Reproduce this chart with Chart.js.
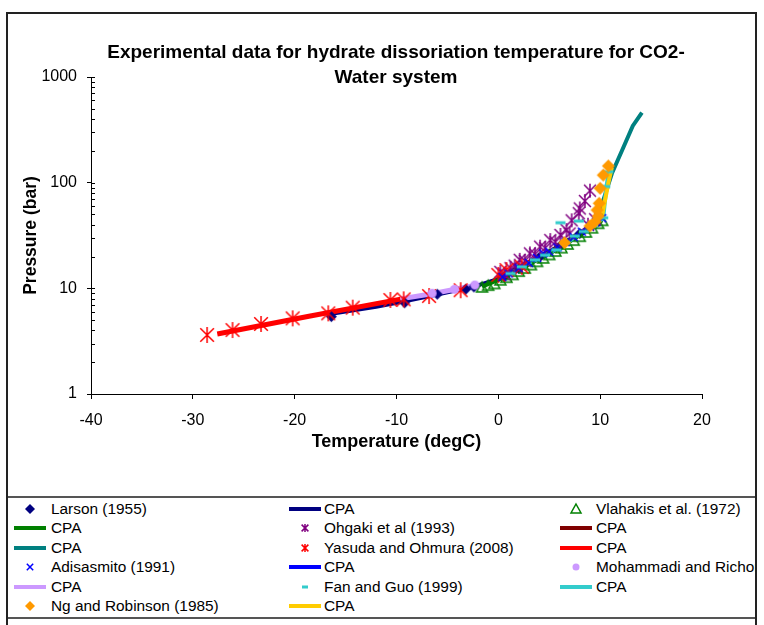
<!DOCTYPE html>
<html>
<head>
<meta charset="utf-8">
<script src="https://cdn.jsdelivr.net/npm/chart.js@4.4.0/dist/chart.umd.min.js"></script>
<style>
  body { margin: 0; background: #fff; font-family: Arial, "Liberation Sans", sans-serif; }
  #wrap { position: relative; width: 764px; height: 625px; overflow: hidden; }
  #chart { position: absolute; left: 0; top: 0; }
  #frame { position: absolute; left: 6px; top: 12px; width: 747px; height: 640px; border: 2px solid #222; pointer-events: none; }
  #title { position: absolute; left: 46px; width: 700px; top: 39px; text-align: center; font-weight: bold; font-size: 19px; line-height: 25px; color: #000; }
  #legend { position: absolute; left: 8px; top: 496px; width: 747px; height: 119px; border-top: 2px solid #555; border-bottom: 2px solid #555; overflow: hidden; }
  .leg-sym { position: absolute; }
  .leg-text { position: absolute; font-size: 15.4px; line-height: 18px; white-space: nowrap; color: #000; }
</style>
</head>
<body>
<div id="wrap">
  <canvas id="chart" width="764" height="496"></canvas>
  <div id="title">Experimental data for hydrate dissoriation temperature for CO2-<br>Water system</div>
  <div id="legend"></div>
  <div id="frame"></div>
</div>
<script>
// Axis ticks
const xTicks = [-40, -30, -20, -10, 0, 10, 20];
const yTicks = [1, 10, 100, 1000];

// [temperature degC, pressure bar]
const larson = [[-16.4, 5.4], [-9.2, 7.3], [-6.0, 8.8], [-3.2, 9.8], [-2.4, 10.3], [0.6, 13.0], [2.0, 15.4], [4.0, 19.6], [6.0, 24.8], [8.0, 33.0], [9.6, 41.0]];
const larsonCpa = [[-16.4, 5.75], [-12.0, 6.7], [-9.2, 7.55], [-6.0, 8.75], [-2.4, 10.4], [0.0, 12.3], [2.0, 15.3], [4.0, 19.4], [6.0, 24.4], [8.0, 33.0], [10.0, 44.5]];

const vlahakis = [[-1.6, 10.2], [-1.0, 10.6], [-0.4, 11.0], [0.2, 11.9], [0.8, 12.6], [1.4, 13.4], [2.0, 14.4], [2.6, 15.4], [3.2, 16.6], [3.8, 17.8], [4.4, 19.2], [5.0, 20.7], [5.6, 22.3], [6.2, 24.0], [6.8, 26.0], [7.4, 28.3], [8.0, 30.8], [8.6, 33.8], [9.2, 37.0], [9.8, 40.8], [10.2, 43.5]];
const vlahakisCpa = [[-1.6, 10.4], [0.0, 12.0], [2.0, 15.0], [4.0, 19.0], [6.0, 24.0], [8.0, 32.0], [10.2, 44.0]];

const ohgaki = [[0.2, 14.3], [0.6, 13.6], [1.2, 15.5], [1.6, 16.4], [2.1, 18.6], [2.6, 18.2], [3.1, 21.4], [3.6, 21.0], [4.1, 24.8], [4.6, 24.0], [5.1, 28.6], [5.6, 27.4], [6.1, 32.0], [6.7, 35.6], [7.0, 33.0], [7.2, 44.0], [7.9, 51.4], [8.0, 57.0], [8.5, 67.0], [9.0, 84.0], [8.8, 40.0], [9.5, 45.0]];
const ohgakiCpa = [[0.0, 12.6], [2.0, 15.8], [4.0, 19.9], [6.0, 25.2], [8.0, 33.5], [10.0, 45.0]];

const liquidCpa = [[10.0, 44.5], [10.3, 68.0], [11.15, 122.0], [12.2, 207.0], [13.2, 344.0], [14.1, 459.0]];

const yasuda = [[-28.6, 3.62], [-26.1, 4.03], [-23.3, 4.6], [-20.2, 5.2], [-16.7, 5.8], [-14.3, 6.56], [-10.6, 7.76], [-9.3, 7.87], [-6.8, 8.46], [-3.7, 9.6], [0.0, 13.4], [0.8, 14.9], [2.3, 16.0]];
const yasudaCpa = [[-27.6, 3.7], [-18.6, 5.45], [-9.6, 7.9]];

const adisasmito = [[0.4, 12.8], [1.0, 13.8], [2.0, 15.5], [3.0, 17.4], [3.8, 19.4], [4.4, 21.4], [5.0, 22.2], [5.8, 24.4], [6.6, 27.4], [7.4, 30.5], [8.2, 34.4], [9.0, 38.6], [9.6, 42.4], [10.2, 46.0]];
const adisasmitoCpa = [[0.0, 12.3], [2.0, 15.3], [4.0, 19.4], [6.0, 24.4], [8.0, 33.0], [10.2, 46.0]];

const mohammadi = [[-6.5, 8.98], [-4.3, 9.79], [-2.3, 10.75]];
const mohammadiCpa = [[-9.6, 7.95], [-6.5, 8.9], [-2.1, 10.75]];

const fanGuo = [[1.2, 13.8], [2.3, 16.0], [3.6, 18.6], [4.6, 20.6], [5.7, 23.1], [6.1, 41.8], [6.6, 27.0], [7.5, 31.2], [7.9, 43.3], [8.4, 34.5], [9.3, 39.0], [10.3, 46.5], [10.5, 92.0], [10.8, 127.0]];
const fanGuoCpa = [[1.0, 13.6], [3.0, 17.3], [5.0, 21.6], [7.0, 28.0], [9.0, 38.5], [10.3, 46.0], [10.6, 90.0], [10.9, 135.0]];

const ngRobinson = [[6.5, 27.0], [9.0, 38.9], [9.5, 42.7], [9.8, 48.3], [9.7, 55.1], [9.9, 63.8], [10.0, 88.5], [10.3, 118.0], [10.8, 143.8]];
const ngRobinsonCpa = [[9.5, 41.5], [10.17, 47.6], [10.83, 102.0], [11.15, 140.0]];

// Series in legend order (row by row)
const series = [
    { label: 'Larson (1955)', data: larson, marker: 'diamond', size: 11, legSize: 10, color: '#000080' },
    { label: 'CPA', data: larsonCpa, line: 4, color: '#000080' },
    { label: 'Vlahakis et al. (1972)', data: vlahakis, marker: 'triangle', size: 11, legSize: 10, color: '#008000' },
    { label: 'CPA', data: vlahakisCpa, line: 4, color: '#008000' },
    { label: 'Ohgaki et al (1993)', data: ohgaki, marker: 'asterisk', size: 14, legSize: 8, color: '#800080' },
    { label: 'CPA', data: ohgakiCpa, line: 4, color: '#800000' },
    { label: 'CPA', data: liquidCpa, line: 4, color: '#008080' },
    { label: 'Yasuda and Ohmura (2008)', data: yasuda, marker: 'asterisk', size: 16, legSize: 8, color: '#ff0000' },
    { label: 'CPA', data: yasudaCpa, line: 5, color: '#ff0000' },
    { label: 'Adisasmito (1991)', data: adisasmito, marker: 'cross', size: 10, legSize: 8, color: '#0000ff' },
    { label: 'CPA', data: adisasmitoCpa, line: 4, color: '#0000ff' },
    { label: 'Mohammadi and Richon (2008)', data: mohammadi, marker: 'circle', size: 9, legSize: 7, color: '#cc99ff' },
    { label: 'CPA', data: mohammadiCpa, line: 5, color: '#cc99ff' },
    { label: 'Fan and Guo (1999)', data: fanGuo, marker: 'dash', size: 10, legSize: 6, color: '#33cccc' },
    { label: 'CPA', data: fanGuoCpa, line: 4, color: '#33cccc' },
    { label: 'Ng and Robinson (1985)', data: ngRobinson, marker: 'diamond', size: 13, legSize: 10, color: '#ff9900' },
    { label: 'CPA', data: ngRobinsonCpa, line: 4, color: '#ffcc00' }
];

// Marker glyphs
function paintMarker(ctx, kind, x, y, size, color) {
    const r = size / 2;
    ctx.fillStyle = color;
    ctx.strokeStyle = color;
    ctx.lineWidth = 1.5;
    ctx.beginPath();
    switch (kind) {
        case 'diamond':
            ctx.moveTo(x, y - r); ctx.lineTo(x + r, y); ctx.lineTo(x, y + r); ctx.lineTo(x - r, y);
            ctx.closePath(); ctx.fill();
            break;
        case 'triangle':
            ctx.moveTo(x, y - r); ctx.lineTo(x + r, y + r * 0.8); ctx.lineTo(x - r, y + r * 0.8);
            ctx.closePath(); ctx.stroke();
            break;
        case 'asterisk': {
            const d = r * 0.85;
            ctx.moveTo(x, y - r); ctx.lineTo(x, y + r);
            ctx.moveTo(x - d, y - d); ctx.lineTo(x + d, y + d);
            ctx.moveTo(x + d, y - d); ctx.lineTo(x - d, y + d);
            ctx.stroke();
            break;
        }
        case 'cross': {
            const d = r * 0.8;
            ctx.moveTo(x - d, y - d); ctx.lineTo(x + d, y + d);
            ctx.moveTo(x + d, y - d); ctx.lineTo(x - d, y + d);
            ctx.stroke();
            break;
        }
        case 'circle':
            ctx.arc(x, y, r, 0, Math.PI * 2); ctx.fill();
            break;
        case 'dash':
            ctx.fillRect(x - r, y - 1.5, size, 3);
            break;
    }
}

function markerCanvas(kind, size, color) {
    const c = document.createElement('canvas');
    c.width = c.height = size + 4;
    paintMarker(c.getContext('2d'), kind, c.width / 2, c.height / 2, size, color);
    return c;
}

const toXY = pts => pts.map(p => ({ x: p[0], y: p[1] }));

// Lines sit under the markers; later series above earlier ones
const datasets = series.map((s, i) => s.marker ? {
    label: s.label,
    data: toXY(s.data),
    showLine: false,
    pointStyle: markerCanvas(s.marker, s.size, s.color),
    pointRadius: s.size / 2,
    order: 50 - i
} : {
    label: s.label,
    data: toXY(s.data),
    showLine: true,
    borderColor: s.color,
    borderWidth: s.line,
    pointRadius: 0,
    tension: 0,
    fill: false,
    order: 100 - i
});

// Inner tick marks on the log axis (decades and 2..9 between)
const innerTicks = {
    id: 'innerTicks',
    afterDraw(chart) {
        const ys = chart.scales.y;
        const x0 = chart.chartArea.left;
        const ctx = chart.ctx;
        ctx.save();
        ctx.strokeStyle = '#000';
        ctx.lineWidth = 1;
        ctx.beginPath();
        for (let k = 0; k < yTicks.length; k++) {
            const base = yTicks[k];
            const top = k < yTicks.length - 1 ? 9 : 1;
            for (let m = 1; m <= top; m++) {
                const py = Math.round(ys.getPixelForValue(base * m)) + 0.5;
                ctx.moveTo(x0, py);
                ctx.lineTo(x0 + 4, py);
            }
        }
        ctx.stroke();
        ctx.restore();
    }
};

Chart.defaults.font.family = 'Arial, "Liberation Sans", sans-serif';
Chart.defaults.color = '#000';

const chart = new Chart(document.getElementById('chart'), {
    type: 'scatter',
    data: { datasets: datasets },
    options: {
        responsive: false,
        animation: false,
        layout: { padding: { left: 0, right: 62, top: 77, bottom: 0 } },
        plugins: { legend: { display: false }, tooltip: { enabled: false }, title: { display: false } },
        scales: {
            x: {
                type: 'linear',
                min: -40,
                max: 20,
                afterBuildTicks: s => { s.ticks = xTicks.map(v => ({ value: v })); },
                afterFit: s => { s.height = 102; },
                ticks: { font: { size: 16 }, padding: 12, maxRotation: 0, callback: v => String(v) },
                grid: { drawOnChartArea: false, drawTicks: true, tickLength: 5, color: '#000' },
                border: { color: '#000', width: 1 },
                title: { display: true, text: 'Temperature (degC)', font: { size: 18, weight: 'bold' }, padding: { top: 0, bottom: 43 } }
            },
            y: {
                type: 'logarithmic',
                min: 1,
                max: 1000,
                afterBuildTicks: s => { s.ticks = yTicks.map(v => ({ value: v })); },
                afterFit: s => { s.width = 91; },
                ticks: { font: { size: 16 }, padding: 10, autoSkip: false, callback: v => String(v) },
                grid: { drawOnChartArea: false, drawTicks: true, tickLength: 4, color: '#000' },
                border: { color: '#000', width: 1 },
                title: { display: true, text: 'Pressure (bar)', font: { size: 17.5, weight: 'bold' }, padding: { top: 21, bottom: 0 } }
            }
        }
    },
    plugins: [innerTicks]
});

// Legend grid, three columns
const legendCols = [{ sym: 30, text: 51 }, { sym: 305, text: 324 }, { sym: 576, text: 596 }];
const legendBox = document.getElementById('legend');
const legLeft = 8, legTop = 498;

series.forEach((s, i) => {
    const col = legendCols[i % 3];
    const row = Math.floor(i / 3);
    const cy = 509 + row * 19.4 - legTop;

    const sym = document.createElement('canvas');
    sym.width = 36; sym.height = 16;
    sym.className = 'leg-sym';
    sym.style.left = (col.sym - 18 - legLeft) + 'px';
    sym.style.top = (cy - 8) + 'px';
    const sctx = sym.getContext('2d');
    if (s.marker) {
        paintMarker(sctx, s.marker, 18, 8, s.legSize, s.color);
    } else {
        sctx.fillStyle = s.color;
        sctx.fillRect(2, 6, 32, 4);
    }
    legendBox.appendChild(sym);

    const txt = document.createElement('div');
    txt.className = 'leg-text';
    txt.textContent = s.label;
    txt.style.left = (col.text - legLeft) + 'px';
    txt.style.top = (cy - 9) + 'px';
    legendBox.appendChild(txt);
});
</script>
</body>
</html>
